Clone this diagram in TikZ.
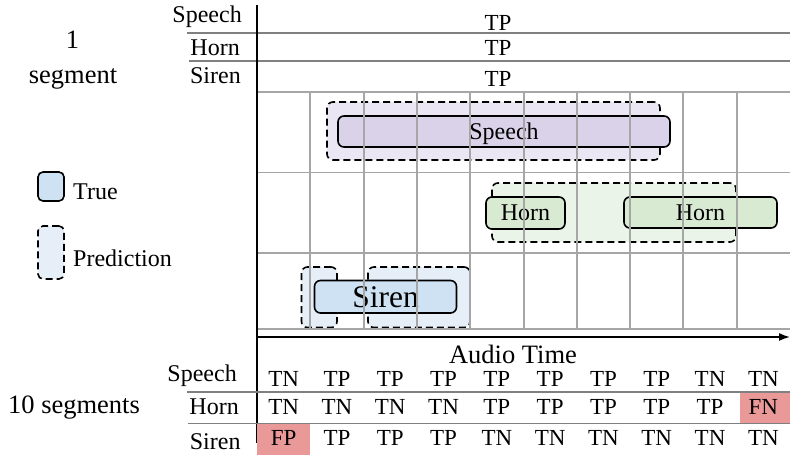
\documentclass[tikz,border=0pt]{standalone}
\usepackage{fontspec}
\setmainfont{Liberation Serif}
\usetikzlibrary{arrows.meta}
\definecolor{purpT}{HTML}{D9D2E9}
\definecolor{purpP}{HTML}{EAE6F3}
\definecolor{greenT}{HTML}{D9EAD3}
\definecolor{greenP}{HTML}{EBF4E8}
\definecolor{blueT}{HTML}{CFE2F3}
\definecolor{blueP}{HTML}{E6EEF8}
\definecolor{redF}{HTML}{EA9999}
\definecolor{gridgray}{HTML}{A6A6A6}
\definecolor{sepgray}{HTML}{808080}
\begin{document}
\begin{tikzpicture}[x=1pt,y=-1pt,
  lab/.style={font=\fontsize{24}{28}\selectfont, inner sep=0pt},
  cell/.style={font=\fontsize{23}{26}\selectfont, inner sep=0pt, anchor=base},
  big/.style={font=\fontsize{26.5}{32}\selectfont, inner sep=0pt, anchor=base},
  boxbase/.style={rounded corners=6pt, inner sep=0pt, line width=1.6pt,
    text height=15.9pt, text depth=0pt, font=\fontsize{24}{28}\selectfont},
  truebox/.style={boxbase, draw=black},
  predbox/.style={boxbase, draw=black, dash pattern=on 7pt off 4pt},
  gridline/.style={draw=gridgray, line width=1.6pt},
  sepline/.style={draw=sepgray, line width=1.6pt},
  axisline/.style={draw=black, line width=1.6pt},
]
\useasboundingbox (0,0) rectangle (790,455);

% ---- left captions and legend ----
\node[big] (one) at (72.5,48) {1};
\node[big] (seg) at (73,83) {segment};
\node[big] (tenseg) at (74,413) {10 segments};

\node[truebox, fill=blueT, minimum width=26, minimum height=29, rounded corners=5pt] (legT) at (51,186.5) {};
\node[lab, anchor=base west] (legTtxt) at (73,199.3) {True};
\node[predbox, fill=blueP, minimum width=26, minimum height=53, rounded corners=5pt] (legP) at (51,252.5) {};
\node[lab, anchor=base west] (legPtxt) at (73,266) {Prediction};

% ---- one-segment results ----
\draw[sepline] (187,33) -- (790,33);
\draw[sepline] (189,61) -- (790,61);
\node[lab, anchor=base east] (tSp) at (242,23) {Speech};
\node[lab, anchor=base east] (tHo) at (240,55) {Horn};
\node[lab, anchor=base east] (tSi) at (241,83) {Siren};
\node[cell] (tSpR) at (498,30.5) {TP};
\node[cell] (tHoR) at (498,55) {TP};
\node[cell] (tSiR) at (498,86) {TP};

% ---- event boxes ----
\node[predbox, fill=purpP, minimum width=333, minimum height=58] (spP) at (493.5,131) {};
\node[truebox, fill=purpT, minimum width=332, minimum height=31] (spT) at (504,131.5) {Speech};

\node[predbox, fill=greenP, minimum width=244, minimum height=59] (hoP) at (614,212.5) {};
\node[truebox, fill=greenT, minimum width=79, minimum height=32] (hoT1) at (525.5,213) {Horn};
\node[truebox, fill=greenT, minimum width=153, minimum height=31] (hoT2) at (700.5,212.5) {Horn};

\node[predbox, fill=blueP, minimum width=35.5, minimum height=60.5] (siP1) at (319.25,297.25) {};
\node[predbox, fill=blueP, minimum width=102, minimum height=60.5] (siP2) at (419,297.25) {};
\node[truebox, fill=blueT, minimum width=142, minimum height=32.5,
  font=\fontsize{31.5}{36}\selectfont, text height=20.9pt] (siT) at (385.5,296.75) {Siren};

% ---- time grid ----
\foreach \k in {1,...,9}
  \draw[gridline] ({round(257+53.3*\k)},92) -- ({round(257+53.3*\k)},329);
\foreach \yy in {92,172.5,253,329}
  \draw[gridline] (257,\yy) -- (790,\yy);

% ---- axes ----
\coordinate (axTop) at (257,5);
\coordinate (axBot) at (257,443);
\coordinate (arrL) at (257,337);
\coordinate (arrR) at (790,337);
\draw[axisline] (axTop) -- (axBot);
\draw[axisline, -{Latex[length=11pt,width=8pt]}] (arrL) -- (arrR);
\node[big] (atime) at (513,363) {Audio Time};

% ---- ten-segment results ----
\fill[redF] (257,423.5) rectangle (310.3,455);
\fill[redF] (739.5,392) rectangle (790,423.5);
\draw[sepline] (187,392) -- (790,392);
\draw[sepline] (188,423.5) -- (790,423.5);
\node[lab, anchor=base east] (bSp) at (237,381) {Speech};
\node[lab, anchor=base east] (bHo) at (239,414) {Horn};
\node[lab, anchor=base east] (bSi) at (240.7,449) {Siren};

\foreach \v [count=\i] in {TN,TP,TP,TP,TP,TP,TP,TP,TN,TN}
  \node[cell] (sp\i) at ({257+53.3*(\i-0.5)},386.5) {\v};
\foreach \v [count=\i] in {TN,TN,TN,TN,TP,TP,TP,TP,TP,FN}
  \node[cell] (ho\i) at ({257+53.3*(\i-0.5)},414.3) {\v};
\foreach \v [count=\i] in {FP,TP,TP,TP,TN,TN,TN,TN,TN,TN}
  \node[cell] (si\i) at ({257+53.3*(\i-0.5)},445) {\v};
\end{tikzpicture}
\end{document}
